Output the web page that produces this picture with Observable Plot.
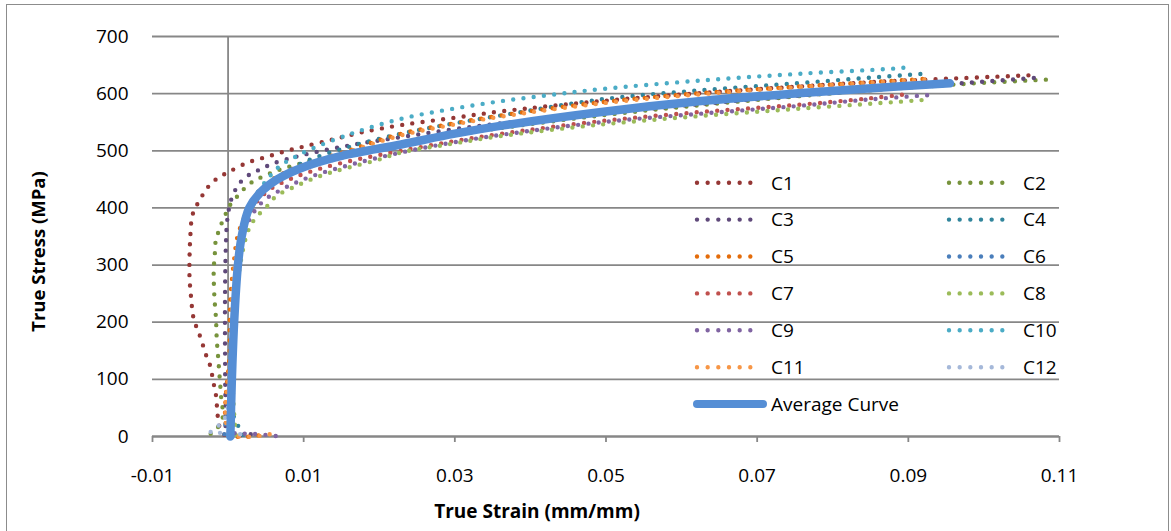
<!DOCTYPE html>
<html>
<head>
<meta charset="utf-8">
<script src="https://cdn.jsdelivr.net/npm/d3@7"></script>
<script src="https://cdn.jsdelivr.net/npm/@observablehq/plot@0.6"></script>
<style>
  html, body { margin: 0; padding: 0; background: #fff; }
  #wrap { position: relative; width: 1171px; height: 531px; overflow: hidden; font-family: "Open Sans", sans-serif; }
  #frame { position: absolute; left: 6px; top: 4px; width: 1163px; height: 560px; border: 1.5px solid #8c8c8c; box-sizing: border-box; }
  #chart { position: absolute; left: 0; top: 0; }
  #legend { position: absolute; left: 0; top: 0; }
</style>
</head>
<body>
<div id="wrap"><div id="frame"></div><div id="chart"></div><svg id="legend" width="1171" height="531"></svg></div>
<script>
// ---- data (strain mm/mm, stress MPa) ----
const seriesNames = ["C1","C2","C3","C4","C5","C6","C7","C8","C9","C10","C11","C12"];
const seriesColors = ["#953735","#77933C","#5F497A","#31859C","#E46C0A","#4A7EBB","#C0504D","#9BBB59","#8064A2","#4BACC6","#F79646","#A5B8D9"];
const avgName = "Average Curve";
const avgColor = "#558ED5";

const c1 = [[-0.0005,3],[-0.0012,20],[-0.0014,40],[-0.0016,72],[-0.0019,92],[-0.0024,125],[-0.0029,142],[-0.0037,175],[-0.0042,192],[-0.0046,209],[-0.0049,244],[-0.0051,278],[-0.0051,313],[-0.005,349],[-0.0048,382],[-0.0044,399],[-0.0037,414],[-0.0031,429],[-0.0022,443],[-0.0012,454],[0.0001,463],[0.0025,479],[0.005,489],[0.0075,499],[0.0099,507],[0.0136,519],[0.0176,532],[0.0229,545],[0.0295,557],[0.0362,569],[0.0494,587],[0.0626,601],[0.075,612],[0.085,620],[0.095,626],[0.1059,632]];
const c2 = [[-0.0023,5],[-0.0016,12],[-0.0007,34],[-0.0009,66],[-0.0011,101],[-0.0013,136],[-0.0015,171],[-0.0016,206],[-0.0018,242],[-0.0019,277],[-0.0019,294],[-0.0018,312],[-0.0017,329],[-0.0016,347],[-0.0011,363],[-0.0007,379],[-0.0001,395],[0.0004,408],[0.0015,424],[0.0026,440],[0.0037,449],[0.006,463],[0.0097,478],[0.0163,496],[0.0229,512],[0.0295,527],[0.0362,540],[0.0494,562],[0.0626,580],[0.075,595],[0.085,606],[0.095,615],[0.1,619],[0.109,625]];
const c3 = [[0.003,4],[0.0,6],[-0.0003,50],[-0.0004,150],[-0.0004,250],[-0.0003,330],[-0.0001,380],[0.0004,414],[0.0011,435],[0.0017,446],[0.0028,458],[0.004,466],[0.006,478],[0.0097,492],[0.0163,510],[0.0229,524],[0.0295,537],[0.0362,548],[0.0494,566],[0.0626,582],[0.075,596],[0.085,606],[0.095,616],[0.1,621],[0.1071,628]];
const c4 = [[0.002,3],[0.0004,50],[0.0006,150],[0.001,250],[0.0016,330],[0.0025,385],[0.004,418],[0.006,446],[0.0097,478],[0.0163,508],[0.0229,530],[0.0295,547],[0.0362,562],[0.0494,590],[0.0626,606],[0.075,618],[0.085,628],[0.0922,635]];
const c5 = [[0.004,2],[0.0002,5],[0.0002,150],[0.0003,240],[0.0008,310],[0.0013,353],[0.0026,396],[0.0046,437],[0.0075,462],[0.0097,474],[0.0163,502],[0.0229,530],[0.0295,547],[0.0362,562],[0.0494,585],[0.0626,601],[0.075,612],[0.085,620],[0.0924,626]];
const c6 = [[-0.0005,4],[0.0002,100],[0.0006,200],[0.0012,300],[0.0026,390],[0.0045,428],[0.0097,468],[0.0163,494],[0.0229,512],[0.0362,546],[0.0494,569],[0.0626,588],[0.075,600],[0.085,610],[0.094,617]];
const c7 = [[0.0006,3],[0.0005,100],[0.0008,200],[0.0014,300],[0.0022,360],[0.0035,405],[0.0055,432],[0.0085,452],[0.0125,470],[0.0175,486],[0.0229,500],[0.0295,516],[0.0362,530],[0.0494,552],[0.0626,568],[0.075,580],[0.085,592],[0.0904,600]];
const c8 = [[0.001,3],[0.0006,100],[0.0009,200],[0.0016,300],[0.003,370],[0.0053,405],[0.0064,421],[0.0088,437],[0.0112,451],[0.0136,462],[0.0163,472],[0.0198,484],[0.0229,497],[0.0295,512],[0.0362,526],[0.0494,546],[0.0626,561],[0.0759,574],[0.089,586],[0.092,589]];
const c9 = [[0.0063,1],[0.004,4],[0.002,5],[0.0006,8],[0.0005,100],[0.0008,200],[0.0014,300],[0.0025,370],[0.0045,410],[0.0075,435],[0.011,455],[0.0163,476],[0.0229,497],[0.0295,514],[0.0362,528],[0.0494,550],[0.0626,565],[0.075,578],[0.085,590],[0.0933,598]];
const c10 = [[0.0,3],[0.0003,60],[0.0006,180],[0.0012,300],[0.0017,353],[0.0024,385],[0.0037,423],[0.0055,455],[0.007,475],[0.0083,485],[0.0103,499],[0.0163,530],[0.0229,556],[0.0295,573],[0.0362,587],[0.0428,598],[0.0494,608],[0.0626,623],[0.0759,635],[0.0891,645],[0.09,647]];
const c11 = [[0.0055,4],[0.0003,6],[0.0004,150],[0.0006,250],[0.0011,320],[0.0018,365],[0.003,405],[0.005,438],[0.008,463],[0.0097,472],[0.0163,500],[0.0229,527],[0.0295,545],[0.0362,560],[0.0494,583],[0.0626,599],[0.075,611],[0.085,619],[0.0924,625]];
const c12 = [[0.0016,4],[-0.0008,4],[-0.0014,10],[-0.0023,8],[-0.0005,30],[0.0003,100],[0.0007,200],[0.0013,300],[0.0028,395],[0.0065,448],[0.0097,467],[0.0163,492],[0.0229,510],[0.0362,544],[0.0494,567],[0.0626,586],[0.075,599],[0.085,609],[0.095,617]];
const avgCurve = [[0.0003,0],[0.0005,100],[0.0008,200],[0.0013,300],[0.0018,350],[0.0028,400],[0.0045,430],[0.0065,450],[0.0097,470],[0.015,491],[0.0229,511],[0.03,530],[0.0362,544],[0.0494,568],[0.0626,587],[0.0759,601],[0.089,613],[0.0955,618]];

const xTicks = [-0.01, 0.01, 0.03, 0.05, 0.07, 0.09, 0.11];
const yTicks = [0, 100, 200, 300, 400, 500, 600, 700];
const xTitle = "True Strain (mm/mm)";
const yTitle = "True Stress (MPa)";

// ---- build table ----
const seriesPts = [c1,c2,c3,c4,c5,c6,c7,c8,c9,c10,c11,c12];
const table = [];
seriesPts.forEach((pts, i) => pts.forEach(([x, y]) => table.push({series: seriesNames[i], strain: x, stress: y})));
const avgTable = avgCurve.map(([x, y]) => ({strain: x, stress: y}));

const grid = "#878787";
const W = 1171, H = 531;
const mL = 152, mR = 112, mT = 36, mB = 95;

const chart = Plot.plot({
  width: W, height: H,
  marginLeft: mL, marginRight: mR, marginTop: mT, marginBottom: mB,
  style: {fontFamily: "'Open Sans', sans-serif", fontSize: "19px", color: "#000", background: "transparent", overflow: "visible"},
  x: {domain: [-0.01, 0.11]},
  y: {domain: [0, 700]},
  color: {domain: seriesNames, range: seriesColors},
  marks: [
    Plot.gridY(yTicks, {stroke: grid, strokeOpacity: 1, strokeWidth: 1.8}),
    Plot.ruleX([0], {stroke: grid, strokeWidth: 1.8}),
    Plot.ruleY([0], {stroke: grid, strokeWidth: 1.8}),
    Plot.axisX(xTicks, {tickSize: 6, tickPadding: 26, stroke: grid, strokeWidth: 1.8, fill: "#000", tickFormat: d => d.toFixed(2), label: null}),
    Plot.axisY(yTicks, {tickSize: 0, tickPadding: 24, fill: "#000", tickFormat: d => String(d), label: null}),
    Plot.line(table, {x: "strain", y: "stress", z: "series", stroke: "series", strokeWidth: 4.4, strokeDasharray: "0 10.3", strokeLinecap: "round", curve: "catmull-rom"}),
    Plot.line(avgTable, {x: "strain", y: "stress", stroke: avgColor, strokeWidth: 8.5, strokeLinecap: "round", strokeLinejoin: "round", curve: "catmull-rom"}),
    Plot.text([xTitle], {text: d => d, frameAnchor: "bottom", textAnchor: "middle", dx: -69, dy: 81, fontWeight: "bold", fontSize: 19, fill: "#000"}),
    Plot.text([yTitle], {text: d => d, frameAnchor: "left", textAnchor: "middle", lineAnchor: "middle", rotate: -90, dx: -113, dy: 15, fontWeight: "bold", fontSize: 18.5, fill: "#000"})
  ]
});
document.getElementById("chart").appendChild(chart);

// ---- legend (two columns, drawn inside the plot area) ----
const lg = d3.select("#legend");
const rowY0 = 182.7, rowStep = 36.9;
const cols = [{sx: 697, tx: 771}, {sx: 949, tx: 1023}];
seriesNames.forEach((name, i) => {
  const r = Math.floor(i / 2), c = cols[i % 2];
  const y = rowY0 + r * rowStep;
  lg.append("line").attr("x1", c.sx).attr("x2", c.sx + 64).attr("y1", y).attr("y2", y)
    .attr("stroke", seriesColors[i]).attr("stroke-width", 4.4).attr("stroke-linecap", "round").attr("stroke-dasharray", "0 10.667");
  lg.append("text").attr("x", c.tx).attr("y", y + 6.8).attr("font-family", "'Open Sans', sans-serif").attr("font-size", 19).attr("fill", "#000").text(name);
});
{
  const y = rowY0 + 6 * rowStep;
  lg.append("line").attr("x1", 697).attr("x2", 763).attr("y1", y).attr("y2", y)
    .attr("stroke", avgColor).attr("stroke-width", 8).attr("stroke-linecap", "round");
  lg.append("text").attr("x", 771).attr("y", y + 6.8).attr("font-family", "'Open Sans', sans-serif").attr("font-size", 19).attr("fill", "#000").text(avgName);
}
</script>
</body>
</html>
